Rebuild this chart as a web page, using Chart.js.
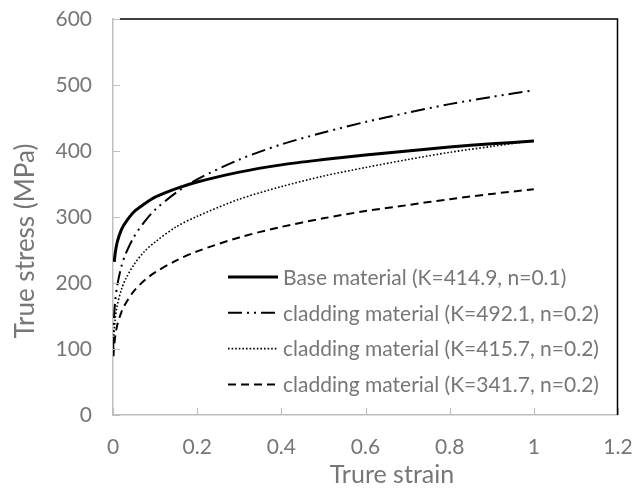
<!DOCTYPE html>
<html>
<head>
<meta charset="utf-8">
<script src="https://cdn.jsdelivr.net/npm/chart.js@4/dist/chart.umd.min.js"></script>
<style>
  html, body { margin: 0; padding: 0; background: #fff; }
  #wrap { width: 644px; height: 490px; }
</style>
</head>
<body>
<div id="wrap"><canvas id="flowCurves" width="644" height="490"></canvas></div>
<script>
// values (true strain / true stress in MPa)
const baseStrain = [0.003, 0.005, 0.01, 0.02, 0.03, 0.05, 0.075, 0.1, 0.15, 0.2, 0.3, 0.4, 0.5, 0.6, 0.7, 0.8, 0.9, 1.0];
const baseStress = [232, 244, 262, 281, 292, 308, 320, 330, 343, 353, 368, 379, 387, 394, 400, 406, 411, 415];

const clad1Strain = [0.0003, 0.001, 0.002, 0.005, 0.01, 0.02, 0.03, 0.05, 0.075, 0.1, 0.15, 0.2, 0.3, 0.4, 0.5, 0.6, 0.7, 0.8, 0.9, 1.0];
const clad1Stress = [97, 124, 142, 171, 196, 225, 244, 270, 293, 311, 337, 357, 387, 410, 428, 444, 458, 471, 482, 492];

const clad2Strain = [0.001, 0.002, 0.005, 0.01, 0.02, 0.03, 0.05, 0.075, 0.1, 0.15, 0.2, 0.3, 0.4, 0.5, 0.6, 0.7, 0.8, 0.9, 1.0];
const clad2Stress = [104, 120, 144, 166, 190, 206, 228, 248, 262, 285, 301, 327, 346, 362, 375, 387, 398, 407, 416];

const clad3Strain = [0.0012, 0.002, 0.005, 0.01, 0.02, 0.03, 0.05, 0.075, 0.1, 0.15, 0.2, 0.3, 0.4, 0.5, 0.6, 0.7, 0.8, 0.9, 1.0];
const clad3Stress = [89, 99, 118, 136, 156, 169, 188, 204, 216, 234, 248, 269, 285, 298, 309, 318, 327, 335, 342];

const seriesLabels = [
    'Base material (K=414.9, n=0.1)',
    'cladding material (K=492.1, n=0.2)',
    'cladding material (K=415.7, n=0.2)',
    'cladding material (K=341.7, n=0.2)'
];

const xTicks = [0, 0.2, 0.4, 0.6, 0.8, 1, 1.2];
const yTicks = [0, 100, 200, 300, 400, 500, 600];
const xTitle = 'Trure strain';
const yTitle = 'True stress (MPa)';

const textGrey = '#767676';
const axisGrey = '#bfbfbf';
const fontFamily = 'Lato, "Open Sans", sans-serif';

function toPoints(xs, ys) {
    return xs.map((x, i) => ({ x: x, y: ys[i] }));
}

// inside tick marks, black top/right frame, axis titles and the in-plot legend
const framePlugin = {
    id: 'frame',
    afterDraw(chart) {
        const ctx = chart.ctx;
        const { left, right, top, bottom } = chart.chartArea;
        const xs = chart.scales.x;
        const ys = chart.scales.y;
        ctx.save();

        ctx.strokeStyle = axisGrey;
        ctx.lineWidth = 1.2;
        ctx.beginPath();
        yTicks.forEach(v => {
            const py = Math.round(ys.getPixelForValue(v)) + 0.5;
            ctx.moveTo(left, py);
            ctx.lineTo(left + 7, py);
        });
        xTicks.forEach(v => {
            const px = Math.round(xs.getPixelForValue(v)) + 0.5;
            ctx.moveTo(px, bottom);
            ctx.lineTo(px, bottom - 7);
        });
        ctx.stroke();

        ctx.strokeStyle = '#000';
        ctx.lineWidth = 1.5;
        ctx.beginPath();
        ctx.moveTo(left + 7, top);
        ctx.lineTo(right - 0.5, top);
        ctx.lineTo(right - 0.5, bottom);
        ctx.stroke();

        // axis titles (Excel places them a little off-centre)
        ctx.fillStyle = textGrey;
        ctx.textAlign = 'center';
        ctx.textBaseline = 'alphabetic';
        ctx.font = '25px ' + fontFamily;
        ctx.fillText(xTitle, 392, 483);
        ctx.save();
        ctx.translate(26, 241);
        ctx.rotate(-Math.PI / 2);
        ctx.textBaseline = 'middle';
        ctx.font = '26px ' + fontFamily;
        ctx.fillText(yTitle, 0, 0);
        ctx.restore();

        // legend
        const lx = left + 115;
        const ly = top + 258;
        const rowH = 35.8;
        ctx.font = '21px ' + fontFamily;
        ctx.textBaseline = 'middle';
        ctx.textAlign = 'left';
        chart.data.datasets.forEach((ds, i) => {
            const y = ly + i * rowH;
            ctx.strokeStyle = ds.borderColor;
            ctx.lineWidth = ds.borderWidth;
            ctx.setLineDash(ds.borderDash || []);
            ctx.beginPath();
            ctx.moveTo(lx, y);
            ctx.lineTo(lx + 50, y);
            ctx.stroke();
            ctx.setLineDash([]);
            ctx.fillStyle = textGrey;
            ctx.fillText(ds.label, lx + 55, y + 1);
        });
        ctx.restore();
    }
};

function noEdgePadding(scale) {
    scale.paddingTop = 0;
    scale.paddingBottom = 0;
    scale.paddingLeft = 0;
    scale.paddingRight = 0;
}

const ctx = document.getElementById('flowCurves').getContext('2d');

new Chart(ctx, {
    type: 'scatter',
    data: {
        datasets: [
            {
                label: seriesLabels[0],
                data: toPoints(baseStrain, baseStress),
                borderColor: '#000',
                borderWidth: 3,
                borderDash: []
            },
            {
                label: seriesLabels[1],
                data: toPoints(clad1Strain, clad1Stress),
                borderColor: '#000',
                borderWidth: 2,
                borderDash: [14, 5, 2, 5, 2, 5]
            },
            {
                label: seriesLabels[2],
                data: toPoints(clad2Strain, clad2Stress),
                borderColor: '#000',
                borderWidth: 1.6,
                borderDash: [1.6, 2]
            },
            {
                label: seriesLabels[3],
                data: toPoints(clad3Strain, clad3Stress),
                borderColor: '#000',
                borderWidth: 2,
                borderDash: [8, 5]
            }
        ].map(ds => Object.assign(ds, {
            showLine: true,
            fill: false,
            tension: 0.3,
            pointRadius: 0,
            pointHoverRadius: 0
        }))
    },
    options: {
        responsive: false,
        animation: false,
        layout: {
            padding: { top: 19, right: 26, left: 0, bottom: 0 }
        },
        plugins: {
            legend: { display: false },
            tooltip: { enabled: false }
        },
        scales: {
            x: {
                type: 'linear',
                min: 0,
                max: 1.2,
                afterBuildTicks: scale => {
                    scale.ticks = xTicks.map(v => ({ value: v }));
                },
                afterFit: scale => {
                    scale.height = 75;
                    noEdgePadding(scale);
                },
                grid: { display: true, drawOnChartArea: false, drawTicks: false },
                border: { color: axisGrey, width: 1.5 },
                ticks: {
                    color: textGrey,
                    padding: 20,
                    font: { family: fontFamily, size: 21 },
                    callback: v => String(Math.round(v * 10) / 10)
                }
            },
            y: {
                type: 'linear',
                min: 0,
                max: 600,
                afterBuildTicks: scale => {
                    scale.ticks = yTicks.map(v => ({ value: v }));
                },
                afterFit: scale => {
                    scale.width = 113;
                    noEdgePadding(scale);
                },
                grid: { display: true, drawOnChartArea: false, drawTicks: false },
                border: { color: axisGrey, width: 1.5 },
                ticks: {
                    color: textGrey,
                    padding: 21,
                    font: { family: fontFamily, size: 21 },
                    callback: v => String(v)
                }
            }
        }
    },
    plugins: [framePlugin]
});
</script>
</body>
</html>
